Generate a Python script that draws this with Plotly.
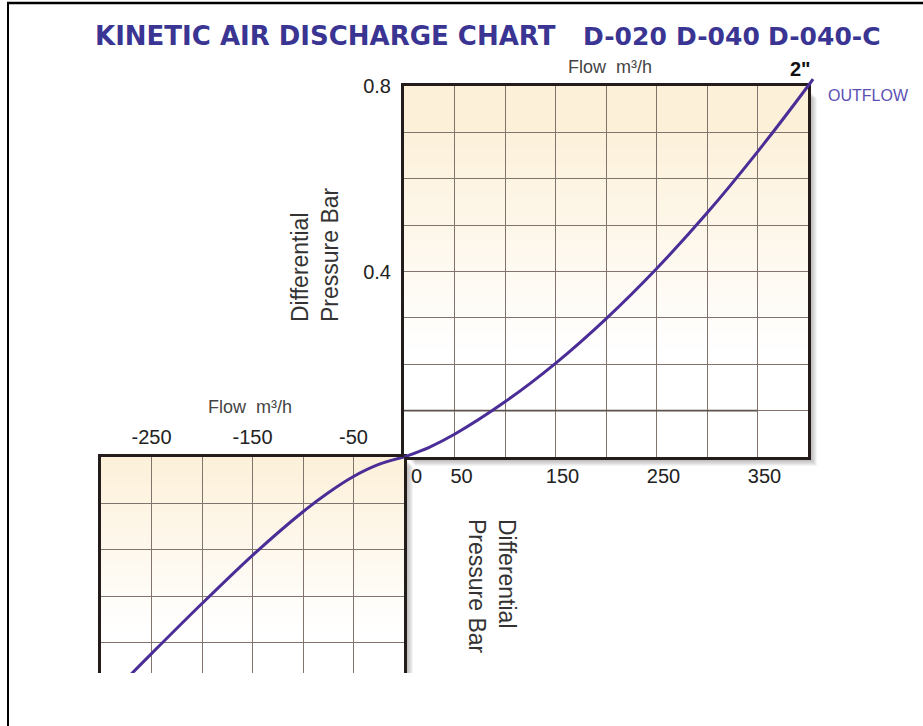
import plotly.graph_objects as go

W, H = 923, 726

# ---------------- data ----------------
flow_out = [0, 25, 50, 100, 150, 200, 250, 300, 350, 400, 405]
dp_out = [0, 0.021, 0.049, 0.119, 0.202, 0.298, 0.406, 0.526, 0.658, 0.800, 0.815]

flow_in = [0, -25, -50, -75, -100, -150, -200, -250, -275]
dp_in = [0, -0.016, -0.042, -0.077, -0.118, -0.212, -0.316, -0.424, -0.479]

x_out_ticks = [0, 50, 100, 150, 200, 250, 300, 350, 400]
x_out_text = ["\u00a0\u00a00", "50", "", "150", "", "250", "", "350", ""]
y_out_ticks = [0, 0.1, 0.2, 0.3, 0.4, 0.5, 0.6, 0.7, 0.8]
y_out_text = ["", "", "", "", "0.4", "", "", "", "0.8"]

x_in_ticks = [-300, -250, -200, -150, -100, -50, 0]
x_in_text = ["", "-250", "", "-150", "", "-50", ""]
y_in_ticks = [-0.4, -0.3, -0.2, -0.1, 0]

title_main = "KINETIC AIR DISCHARGE CHART"
title_models = ["D-020", "D-040", "D-040-C"]
flow_label = "Flow  m³/h"
dp_label = "Differential<br>Pressure Bar"
size_label = '2"'
dir_label = "OUTFLOW"

# ---------------- helpers ----------------
def px(x):
    return x / W

def py(y):
    return 1 - y / H

# pixel frame of the two quadrants
UX0, UX1, UY0, UY1 = 404, 808, 86, 457     # outflow box (left, right, top, bottom)
LX0, LY1 = 101, 673                         # inflow box left and visible bottom
X_MAX, Y_MAX = 400, 0.8
XPP = X_MAX / (UX1 - UX0)                   # flow units per pixel
YPP = Y_MAX / (UY1 - UY0)                   # bar per pixel

CURVE = "#4a2d96"
BORDER = "#231c1a"
GRID = "#82746c"
TEXT = "#222222"
FONT = "Liberation Sans, Arial, sans-serif"
CREAM = (252, 240, 216)

def mix(t):
    r = int(round(255 + (CREAM[0] - 255) * t))
    g = int(round(255 + (CREAM[1] - 255) * t))
    b = int(round(255 + (CREAM[2] - 255) * t))
    return f"rgb({r},{g},{b})"

fig = go.Figure()

# empty trace keeps the framed outflow subplot alive
fig.add_trace(go.Scatter(x=[], y=[], xaxis="x", yaxis="y", showlegend=False))
# outflow curve on an invisible, slightly larger axis pair (same scale) so it can run past the corner
fig.add_trace(go.Scatter(x=flow_out, y=dp_out, mode="lines",
                         line=dict(color=CURVE, width=3, shape="spline", smoothing=0.9),
                         xaxis="x3", yaxis="y3", showlegend=False, hoverinfo="skip"))
fig.add_trace(go.Scatter(x=flow_in, y=dp_in, mode="lines",
                         line=dict(color=CURVE, width=3, shape="spline", smoothing=0.9),
                         xaxis="x2", yaxis="y2", showlegend=False, hoverinfo="skip"))

shapes = []

# drop shadows (paper level, under the plot areas)
for k in range(1, 10):
    shapes.append(dict(type="rect", xref="paper", yref="paper", layer="below",
                       x0=px(UX0 + k + 2), x1=px(UX1 + k), y0=py(UY1 + k), y1=py(UY0 + k + 3),
                       fillcolor="rgba(0,0,0,0.045)", line=dict(width=0)))
    shapes.append(dict(type="rect", xref="paper", yref="paper", layer="below",
                       x0=px(110), x1=px(UX0 + k), y0=py(LY1), y1=py(UY1 + k),
                       fillcolor="rgba(0,0,0,0.045)", line=dict(width=0)))

# background gradients
N = 48
for i in range(N):
    f0 = i / N
    f1 = (i + 1) / N
    fm = (f0 + f1) / 2
    t = min(max((fm - 0.28) / 0.62, 0), 1)
    shapes.append(dict(type="rect", xref="x", yref="y", layer="below",
                       x0=0, x1=X_MAX, y0=Y_MAX * f0, y1=Y_MAX * f1 + 0.002,
                       fillcolor=mix(t), line=dict(width=0)))
Y_LOW = -(LY1 - UY1) * YPP
for i in range(N):
    d0 = i / N
    d1 = (i + 1) / N
    dm = (d0 + d1) / 2
    t = min(max(1 - dm / 0.8, 0), 1)
    shapes.append(dict(type="rect", xref="x2", yref="y2", layer="below",
                       x0=-300, x1=0, y0=Y_LOW * d1 - 0.002, y1=Y_LOW * d0,
                       fillcolor=mix(t), line=dict(width=0)))

# darker gridline segment
shapes.append(dict(type="line", xref="x", yref="y", layer="between",
                   x0=0, x1=350, y0=0.1, y1=0.1, line=dict(color="#5e524d", width=1.6)))

# page frame
shapes.append(dict(type="line", xref="paper", yref="paper", x0=px(7), x1=1, y0=py(3), y1=py(3),
                   line=dict(color="#000000", width=2.5)))
shapes.append(dict(type="line", xref="paper", yref="paper", x0=px(8), x1=px(8), y0=py(3), y1=0,
                   line=dict(color="#000000", width=2)))

axis_common = dict(showgrid=True, gridcolor=GRID, gridwidth=1.1, zeroline=False,
                   showline=True, linecolor=BORDER, linewidth=3, ticks="",
                   tickfont=dict(family=FONT, size=20, color=TEXT), fixedrange=True)

# extended invisible axes for the outflow curve
EX1, EY0 = UX1 + 14, UY0 - 16
hidden = dict(visible=False, showgrid=False, zeroline=False, fixedrange=True)

fig.update_layout(
    width=W, height=H, autosize=False,
    margin=dict(l=0, r=0, t=0, b=0, pad=0, autoexpand=False),
    paper_bgcolor="white", plot_bgcolor="rgba(0,0,0,0)",
    showlegend=False,
    xaxis=dict(domain=[px(UX0), px(UX1)], anchor="y", range=[0, X_MAX],
               tickmode="array", tickvals=x_out_ticks, ticktext=x_out_text,
               mirror=True, ticklabelshift=7, ticklabelstandoff=-1, **axis_common),
    yaxis=dict(domain=[py(UY1), py(UY0)], anchor="x", range=[0, Y_MAX],
               tickmode="array", tickvals=y_out_ticks, ticktext=y_out_text,
               mirror=True, ticklabelstandoff=6, **axis_common),
    xaxis2=dict(domain=[px(LX0), px(UX0)], anchor="y2", range=[-(UX0 - LX0) * XPP, 0], side="top",
                tickmode="array", tickvals=x_in_ticks, ticktext=x_in_text,
                mirror=False, ticklabelstandoff=2, **axis_common),
    yaxis2=dict(domain=[py(LY1), py(UY1)], anchor="x2", range=[Y_LOW, 0],
                tickmode="array", tickvals=y_in_ticks, showticklabels=False,
                mirror=True, **axis_common),
    xaxis3=dict(domain=[px(UX0), px(EX1)], anchor="y3", range=[0, (EX1 - UX0) * XPP], **hidden),
    yaxis3=dict(domain=[py(UY1), py(EY0)], anchor="x3", range=[0, (UY1 - EY0) * YPP], **hidden),
    shapes=shapes,
)

ann = []
TFONT = dict(family="DejaVu Sans, sans-serif", size=26, color="#3a3592", weight="bold")
ann.append(dict(text=f"<b>{title_main}</b>", x=px(325), y=py(36), xref="paper", yref="paper",
                showarrow=False, xanchor="center", yanchor="middle", font=TFONT))
for name, cx in zip(title_models, [625, 718, 824]):
    ann.append(dict(text=f"<b>{name}</b>", x=px(cx), y=py(36), xref="paper", yref="paper",
                    showarrow=False, xanchor="center", yanchor="middle",
                    font=dict(TFONT, size=25)))

LFONT = dict(family=FONT, size=18, color="#444444")
ann.append(dict(text=flow_label, x=px(610), y=py(67), xref="paper", yref="paper",
                showarrow=False, xanchor="center", yanchor="middle", font=LFONT))
ann.append(dict(text=flow_label, x=px(250), y=py(407), xref="paper", yref="paper",
                showarrow=False, xanchor="center", yanchor="middle", font=LFONT))

AFONT = dict(family=FONT, size=23, color="#333333")
ann.append(dict(text=dp_label, x=px(315), y=py(255), xref="paper", yref="paper",
                showarrow=False, xanchor="center", yanchor="middle", textangle=-90,
                align="left", font=AFONT))
ann.append(dict(text=dp_label, x=px(492), y=py(586), xref="paper", yref="paper",
                showarrow=False, xanchor="center", yanchor="middle", textangle=90,
                align="left", font=AFONT))

ann.append(dict(text=f"<b>{size_label}</b>", x=px(800), y=py(69), xref="paper", yref="paper",
                showarrow=False, xanchor="center", yanchor="middle",
                font=dict(family=FONT, size=20, color="#111111")))
ann.append(dict(text=dir_label, x=px(868), y=py(95), xref="paper", yref="paper",
                showarrow=False, xanchor="center", yanchor="middle",
                font=dict(family=FONT, size=16, color="#5a4fb5")))

fig.update_layout(annotations=ann)

fig.write_html("out.html", config={"displayModeBar": False},
               post_script="document.body.style.margin='0';document.body.style.overflow='hidden';")
